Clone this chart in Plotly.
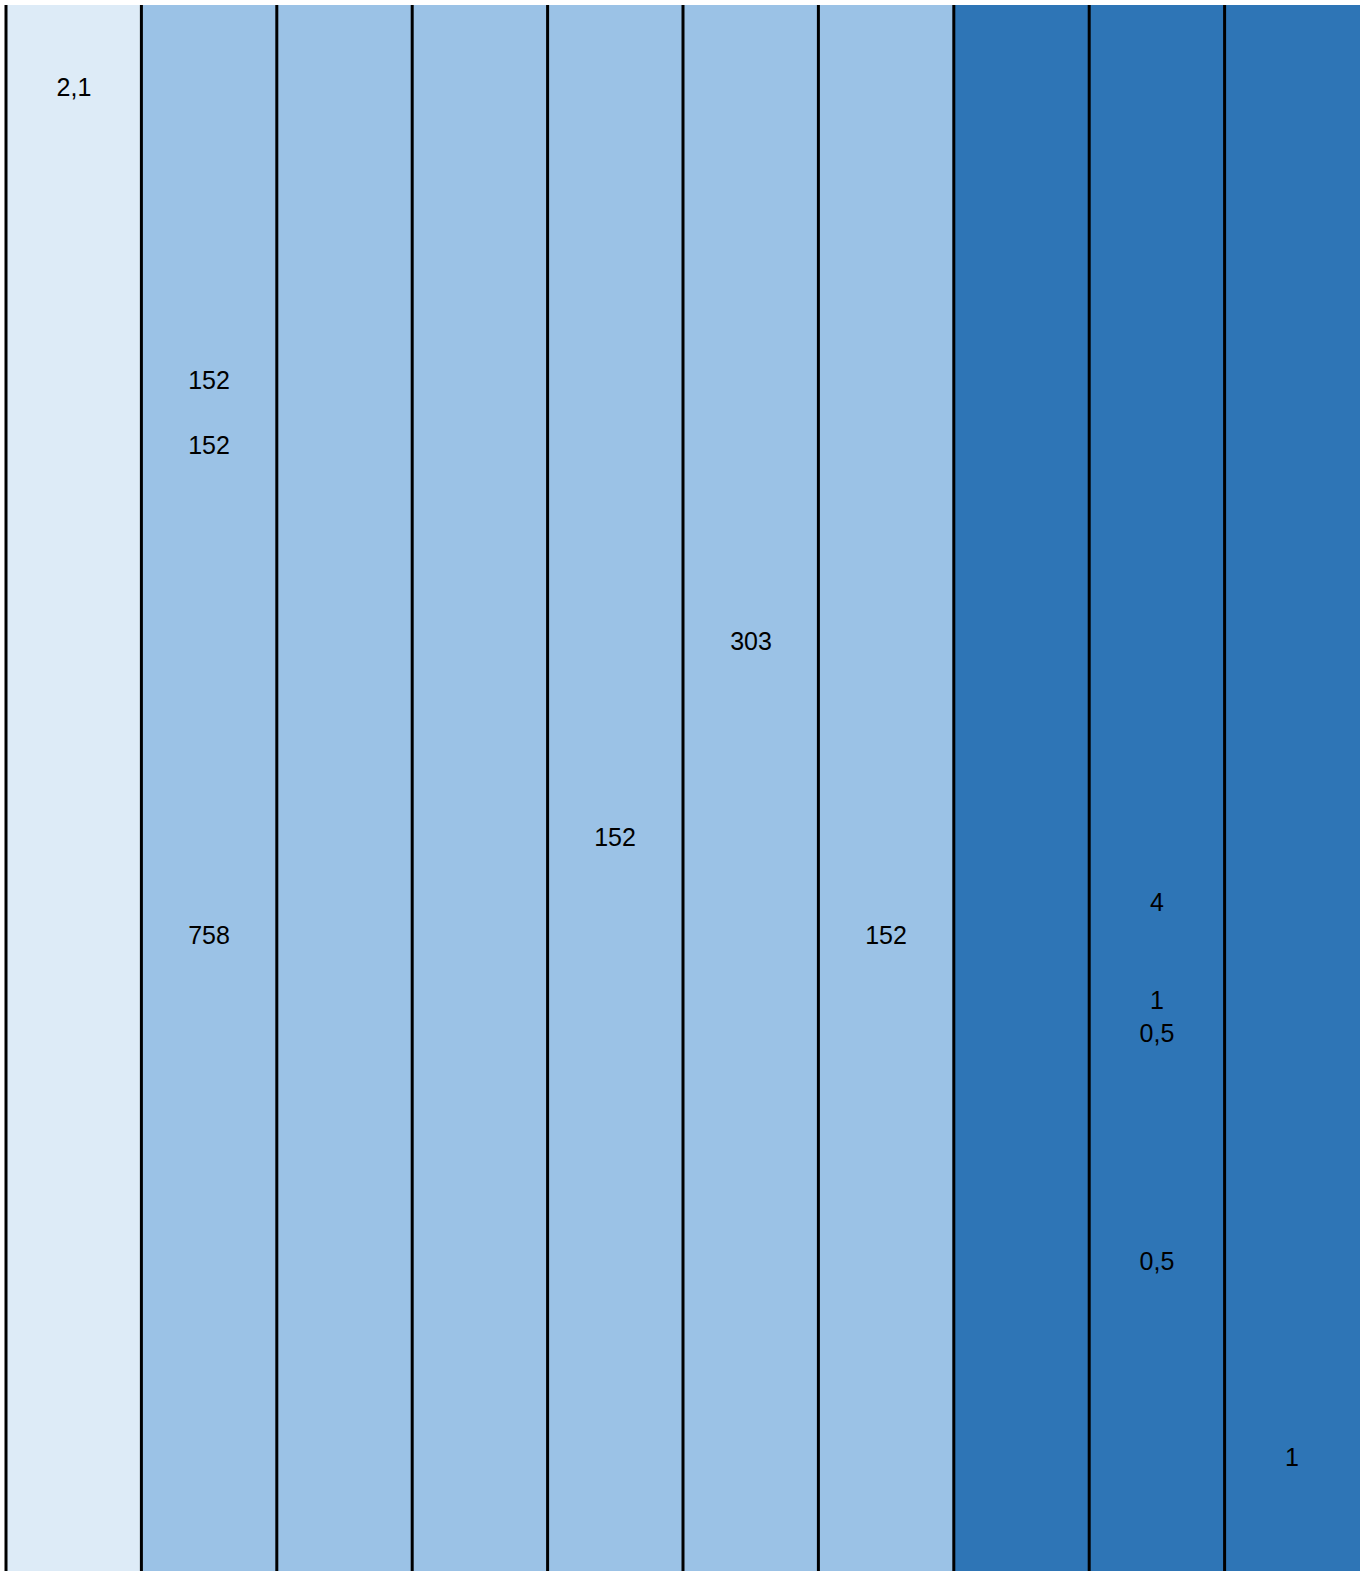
import plotly.graph_objects as go

# Columns (categories) and their colour level
columns = ["C1", "C2", "C3", "C4", "C5", "C6", "C7", "C8", "C9", "C10"]
column_levels = [0, 1, 1, 1, 1, 1, 1, 2, 2, 2]
n_rows = 48

# Labelled cells: column index, row index, label
label_cols = [0, 1, 1, 1, 4, 5, 6, 8, 8, 8, 8, 9]
label_rows = [2, 11, 13, 28, 25, 19, 28, 27, 30, 31, 38, 44]
label_text = ["2,1", "152", "152", "758", "152", "303", "152", "4", "1", "0,5", "0,5", "1"]

rows = list(range(n_rows))
z = [[column_levels[c] for c in range(len(columns))] for _ in rows]
text = [["" for _ in columns] for _ in rows]
for c, r, t in zip(label_cols, label_rows, label_text):
    text[r][c] = t

fig = go.Figure(go.Heatmap(
    z=z,
    x=list(range(len(columns))),
    y=rows,
    text=text,
    texttemplate="%{text}",
    textfont=dict(family="Liberation Sans Narrow, Arial Narrow, Liberation Sans, Arial, sans-serif",
                  size=25, color="#000000"),
    colorscale=[[0, "#DDEBF7"], [0.5, "#9BC2E6"], [1, "#2E75B6"]],
    zmin=0, zmax=2,
    showscale=False,
    hoverinfo="skip",
))

shapes = [dict(type="line", xref="paper", yref="paper",
               x0=0, x1=0, y0=0, y1=1,
               line=dict(color="#000000", width=3))]
for i in range(1, len(columns)):
    shapes.append(dict(type="line", xref="x", yref="paper",
                       x0=i - 0.5, x1=i - 0.5, y0=0, y1=1,
                       line=dict(color="#000000", width=3)))

fig.update_layout(
    width=1366, height=1571,
    margin=dict(l=6, r=6, t=5, b=0, pad=0),
    paper_bgcolor="#FFFFFF",
    plot_bgcolor="#FFFFFF",
    shapes=shapes,
    xaxis=dict(visible=False, range=[-0.5, len(columns) - 0.5], fixedrange=True),
    yaxis=dict(visible=False, range=[n_rows - 0.5, -0.5], fixedrange=True),
)

fig.write_html("out.html", config={"displayModeBar": False},
               post_script="document.body.style.margin='0';")
